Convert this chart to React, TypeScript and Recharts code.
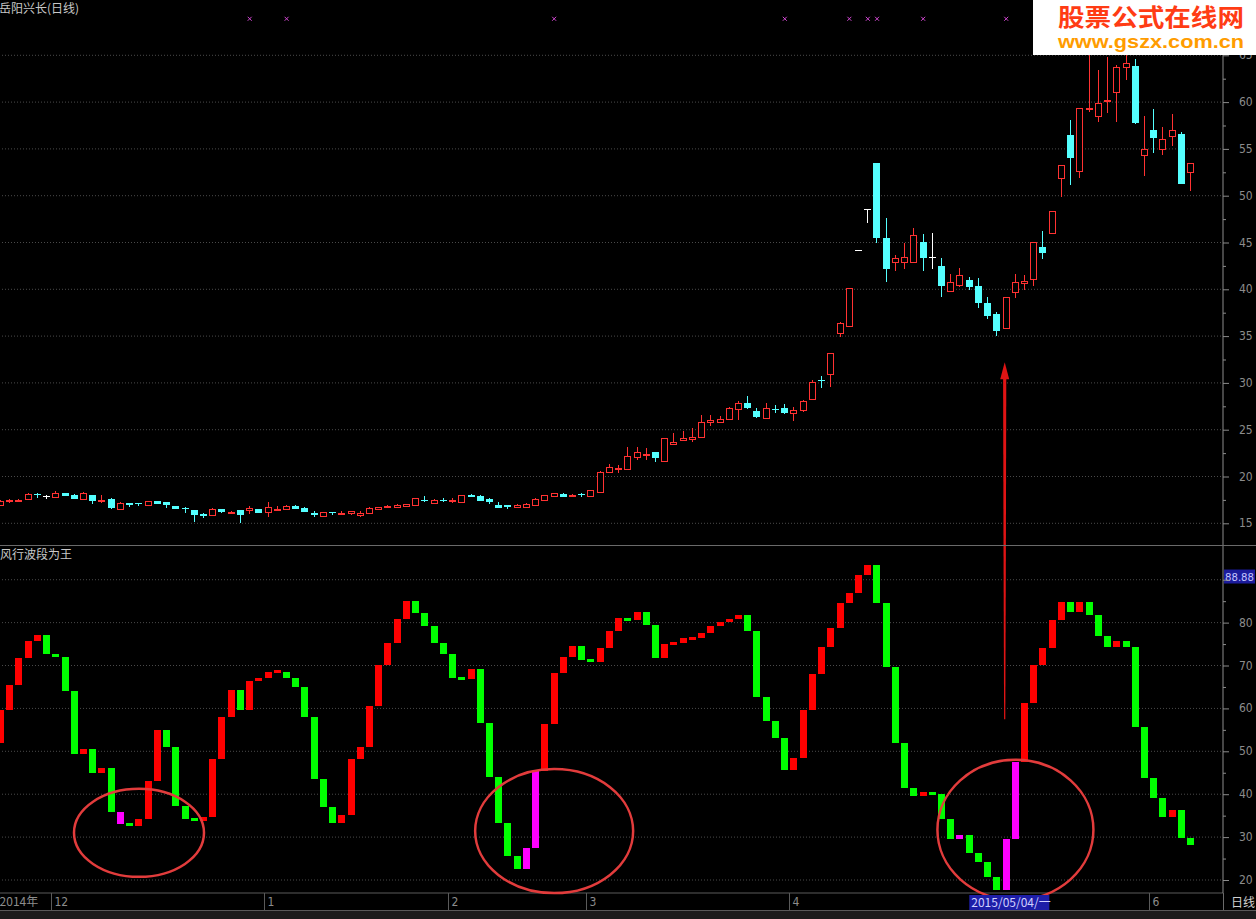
import React from "react";
import { ComposedChart, Bar, Scatter, XAxis, YAxis, CartesianGrid, ReferenceLine, ReferenceDot } from "recharts";

// daily candles, 岳阳兴长
const OPEN = [16.96,17.40,17.42,17.60,18.10,17.96,17.85,18.21,18.03,17.64,
  18.03,17.47,17.60,16.57,17.14,17.14,17.00,17.35,17.28,16.85,
  16.60,16.43,16.00,15.93,16.50,16.23,16.39,16.43,16.50,16.21,
  16.55,16.50,16.89,16.64,16.14,15.75,16.16,16.12,16.07,15.86,
  16.07,16.50,16.71,16.78,16.89,17.00,17.50,17.21,17.52,17.48,
  17.32,18.06,17.96,17.56,16.96,16.92,16.78,16.78,17.00,17.53,
  17.92,18.14,17.89,18.08,17.96,18.35,20.45,20.85,20.80,22.05,
  22.30,22.58,21.70,23.44,23.90,24.00,24.20,25.80,25.86,26.14,
  27.25,27.82,27.00,26.28,27.25,27.35,26.82,27.10,28.24,30.33,
  30.92,35.30,36.12,44.20,48.55,53.46,45.45,42.95,42.95,42.95,
  45.10,43.50,42.49,39.85,40.46,41.00,40.35,38.50,37.35,35.90,
  39.68,40.71,41.07,44.48,45.98,51.86,56.49,52.65,59.25,58.52,
  60.10,61.12,63.72,63.86,54.32,57.03,54.96,56.42,56.56,52.50];
const HIGH = [17.45,17.64,17.55,18.28,18.20,17.98,18.49,18.25,18.10,18.35,
  18.05,17.99,17.65,17.30,17.18,17.18,17.40,17.40,17.30,16.90,
  16.78,16.45,16.05,16.60,16.55,16.30,16.42,16.85,16.55,17.24,
  16.85,16.92,16.95,16.70,16.28,16.25,16.20,16.35,16.32,16.28,
  16.70,16.75,16.95,17.02,17.10,17.75,17.92,17.55,17.70,17.70,
  18.05,18.10,18.00,17.67,17.28,16.95,17.03,17.12,17.65,18.06,
  18.28,18.20,18.10,18.28,18.60,20.60,21.33,21.23,23.19,23.10,
  23.00,22.60,24.10,24.68,24.90,25.15,26.60,26.60,26.50,27.40,
  28.10,28.60,27.35,27.80,27.60,27.70,27.45,28.15,30.30,30.74,
  33.20,36.50,40.15,44.22,48.58,53.50,47.58,43.67,44.98,46.50,
  45.90,45.98,43.30,41.60,42.30,41.28,41.17,39.14,37.57,39.20,
  41.60,41.53,45.10,46.27,48.40,53.30,58.09,59.40,66.50,63.44,
  64.79,63.97,65.30,64.60,58.52,59.27,57.31,58.73,56.85,53.50];
const LOW = [16.90,17.21,17.38,17.50,17.67,17.64,17.78,17.90,17.60,17.60,
  17.03,17.21,16.55,16.55,16.78,16.89,16.95,17.05,16.60,16.50,
  16.07,15.12,15.60,15.90,16.10,15.96,15.00,15.96,16.10,15.71,
  16.28,16.45,16.50,16.20,15.71,15.70,15.93,15.93,15.93,15.71,
  16.00,16.45,16.68,16.75,16.85,16.95,17.30,17.18,17.28,17.21,
  17.30,17.80,17.40,17.07,16.66,16.57,16.71,16.75,16.95,17.50,
  17.90,17.80,17.85,17.78,17.78,18.30,20.34,20.41,20.70,21.76,
  21.76,21.60,21.68,23.37,23.80,23.72,24.10,25.40,25.75,26.10,
  26.00,27.20,26.30,26.20,26.75,26.64,25.93,26.90,28.17,29.42,
  29.60,34.94,36.00,44.18,47.05,45.00,40.82,42.00,42.13,42.77,
  42.00,42.13,39.20,39.75,40.28,39.92,37.97,36.83,35.05,35.85,
  39.04,39.92,40.35,43.24,45.90,49.90,51.15,51.86,58.98,57.90,
  58.88,57.90,62.37,57.70,52.15,54.60,54.35,55.32,51.20,50.54];
const CLOSE = [17.39,17.45,17.50,18.14,18.00,17.96,18.28,17.92,17.64,18.28,
  17.42,17.50,16.60,17.21,17.00,17.12,17.35,17.10,16.92,16.57,
  16.57,15.86,15.79,16.53,16.18,16.25,15.93,16.64,16.14,16.71,
  16.57,16.85,16.53,16.25,15.86,16.21,16.14,16.14,16.28,16.14,
  16.64,16.71,16.89,16.99,17.07,17.70,17.47,17.50,17.50,17.50,
  17.99,17.85,17.42,17.28,16.68,16.78,16.92,17.10,17.60,18.03,
  18.24,17.85,18.06,18.06,18.56,20.50,20.98,20.90,22.20,22.58,
  22.45,21.94,24.08,23.72,24.08,24.20,25.86,26.03,26.10,27.28,
  27.82,27.28,26.40,27.28,27.22,26.82,27.10,28.06,30.06,30.30,
  33.16,36.43,40.10,44.20,48.55,45.45,42.13,43.30,43.48,45.80,
  43.38,43.50,40.39,40.75,41.53,40.28,38.50,37.18,35.58,39.14,
  40.82,40.93,45.02,43.90,48.37,53.29,54.00,59.34,59.32,59.87,
  60.22,63.72,64.15,57.74,54.96,56.13,56.03,57.03,51.26,53.46];

// 风行波段为王: level before each day + one level per day (bar i spans WAVE[i] -> WAVE[i+1])
const WAVE = [51.9,
  59.6,65.5,71.7,75.7,77.1,72.8,72.1,64.1,49.3,50.5,
  45.0,46.0,35.9,33.0,32.7,34.2,43.1,55.0,51.1,37.3,
  34.2,33.8,34.7,48.2,58.1,64.3,59.6,66.4,67.2,68.4,
  68.6,67.2,65.0,57.9,43.5,37.1,33.4,35.2,48.2,51.1,
  60.6,70.1,75.3,80.8,85.0,82.2,79.3,75.3,72.7,67.2,
  66.9,69.1,56.5,44.1,33.2,25.7,22.5,27.4,45.3,56.3,
  68.2,72.1,74.5,71.3,70.9,74.0,78.0,81.0,80.5,82.5,
  79.4,71.8,75.0,75.2,76.3,76.5,77.6,79.1,80.1,80.8,
  81.8,78.1,62.7,57.1,53.2,45.7,48.4,59.6,68.0,74.2,
  78.7,84.6,87.0,91.1,93.4,84.5,69.7,52.0,41.5,39.6,
  40.4,40.0,34.2,29.5,30.6,26.4,24.1,20.8,17.7,29.5,
  47.6,61.2,70.1,74.0,80.6,84.7,82.5,84.7,81.8,76.9,
  74.4,75.7,74.4,55.7,43.8,39.2,34.8,36.3,29.9,28.2];
const HOT = [13, 57, 58, 104, 109, 110];
const SIGNALS = [27, 31, 60, 85, 92, 94, 95, 100, 109];
const SIGNAL_LEVEL = 68.9;

const MONTH_TICKS = [0, 6, 29, 49, 64, 86, 105, 125];
const MONTH_LABELS = ["2014年", "12", "1", "2", "3", "4", "2015/05/04/一", "6"];
const CURSOR = 105;

const PRICE_TICKS = [15,17.5,20,22.5,25,27.5,30,32.5,35,37.5,40,42.5,45,47.5,50,52.5,55,57.5,60,62.5,65];
const PRICE_GRID = [15,20,25,30,35,40,45,50,55,60,65];
const WAVE_TICKS = [20,25,30,35,40,45,50,55,60,65,70,75,80,85,90];
const WAVE_GRID = [20,30,40,50,60,70,80,90];
const LAST_LABEL = 88.88;

// annotations
const RINGS = [{ i: 15, v: 31.0, rx: 65, ry: 44 }, { i: 60, v: 31.4, rx: 79, ry: 62 }, { i: 110, v: 31.7, rx: 78, ry: 70 }];
const ARROW_AT = 109, ARROW_TIP = 32.2, ARROW_END = 57.5;

const PD: [number, number] = [12.682, 70.908];
const WD: [number, number] = [16.97, 97.86];

const RED = "#ff3232", CYAN = "#54ffff", UP = "#ff0000", DOWN = "#00ff00", HOTC = "#ff00ff";
const AXIS = "#8c8c8c", GRID = "#4a4a4a", ARROW = "#e01414";
const NUM = "'Liberation Sans Narrow','DejaVu Sans Condensed','Liberation Sans',sans-serif";
const CJK = "'Noto Sans CJK SC','Noto Sans',sans-serif";

const rows = Array.from({ length: CLOSE.length + 3 }, (_, i) =>
  i < CLOSE.length
    ? {
        i, open: OPEN[i], high: HIGH[i], low: LOW[i], close: CLOSE[i], hl: [LOW[i], HIGH[i]],
        from: WAVE[i], to: WAVE[i + 1], wave: [Math.min(WAVE[i], WAVE[i + 1]), Math.max(WAVE[i], WAVE[i + 1])],
        hot: HOT.includes(i), sig: SIGNALS.includes(i) ? SIGNAL_LEVEL : null,
      }
    : { i }
);

const Candle = (p: any) => {
  const d = p.payload;
  if (!d || d.open == null || !isFinite(p.y)) return null;
  const top = Math.min(p.y, p.y + p.height), bot = Math.max(p.y, p.y + p.height);
  const k = (bot - top) / (d.high - d.low);
  const py = (v: number) => Math.round(top + (d.high - v) * k);
  const x0 = Math.round(p.x), cx = x0 + 3.5;
  const yt = py(Math.max(d.open, d.close)), yb = py(Math.min(d.open, d.close));
  const c = d.close > d.open ? RED : d.close < d.open ? CYAN : "#ffffff";
  return (
    <g shapeRendering="crispEdges">
      <line x1={cx} x2={cx} y1={Math.round(top)} y2={Math.max(Math.round(bot), Math.round(top) + 1)} stroke={c} />
      {d.close > d.open ? (
        <rect x={x0 + 0.5} y={yt + 0.5} width={6} height={Math.max(yb - yt, 1)} fill="#000" stroke={c} />
      ) : d.close < d.open ? (
        <rect x={x0} y={yt} width={7} height={Math.max(yb - yt, 1)} fill={c} />
      ) : (
        <line x1={x0} x2={x0 + 7} y1={yt + 0.5} y2={yt + 0.5} stroke={c} />
      )}
    </g>
  );
};

const WaveBar = (p: any) => {
  const d = p.payload;
  if (!d || d.from == null || !isFinite(p.y)) return null;
  const top = Math.min(p.y, p.y + p.height), h = Math.abs(p.height);
  const hh = Math.max(h, 3);
  const c = d.hot ? HOTC : d.to >= d.from ? UP : DOWN;
  return <rect x={Math.round(p.x)} y={h < 3 ? top - (hh - h) / 2 : top} width={7} height={hh} fill={c} shapeRendering="crispEdges" />;
};

const Mark = (p: any) => {
  if (!p.payload || p.payload.sig == null || !isFinite(p.cx) || !isFinite(p.cy)) return null;
  const { cx, cy } = p;
  return (
    <g stroke="#d048d0" strokeWidth={1}>
      <line x1={cx - 2} y1={cy - 2} x2={cx + 2} y2={cy + 2} />
      <line x1={cx - 2} y1={cy + 2} x2={cx + 2} y2={cy - 2} />
    </g>
  );
};

const PriceTick = (p: any) => {
  const v = p.payload.value, major = v % 5 === 0;
  return (
    <g>
      <line x1={p.x} x2={p.x + (major ? 6 : 3)} y1={p.y + 0.5} y2={p.y + 0.5} stroke={AXIS} />
      {major && <text x={p.x + 16} y={p.y + 4} fill={AXIS} fontSize={12} fontFamily={NUM}>{v}</text>}
    </g>
  );
};

const WaveTick = (p: any) => {
  const v = p.payload.value, major = v % 10 === 0;
  return (
    <g>
      <line x1={p.x} x2={p.x + (major ? 6 : 3)} y1={p.y + 0.5} y2={p.y + 0.5} stroke={AXIS} />
      {major && v < 90 && <text x={p.x + 16} y={p.y + 4} fill={AXIS} fontSize={12} fontFamily={NUM}>{v}</text>}
    </g>
  );
};

const DateTick = (p: any) => {
  const k = MONTH_TICKS.indexOf(p.payload.value);
  if (k < 0) return null;
  const label = MONTH_LABELS[k];
  if (p.payload.value === CURSOR)
    return (
      <g>
        <rect x={p.x} y={p.y + 2} width={80} height={15} fill="#1e1ea8" />
        <text x={p.x + 2} y={p.y + 14} fill="#d0d0ff" fontSize={12} fontFamily={CJK}>{label}</text>
      </g>
    );
  if (k === 0) return <text x={p.x - 1} y={p.y + 13} fill={AXIS} fontSize={12} fontFamily={CJK}>{label}</text>;
  const sx = Math.round(p.x - 4.6) + 0.5;
  return (
    <g>
      <line x1={sx} x2={sx} y1={p.y} y2={p.y + 17} stroke="#5a5a5a" />
      <text x={sx + 3} y={p.y + 13} fill={AXIS} fontSize={12} fontFamily={NUM}>{label}</text>
    </g>
  );
};

const ArrowTop = (q: any) => {
  const x = q.x1 - 1.5, y1 = q.y1, y2 = q.y2;
  return (
    <g fill={ARROW}>
      <polygon points={`${x},${y1} ${x - 4.5},${y1 + 17} ${x + 4.5},${y1 + 17}`} />
      <polygon points={`${x - 1.6},${y1 + 12} ${x + 1.6},${y1 + 12} ${x + 1.2},${y2} ${x - 1.2},${y2}`} />
    </g>
  );
};
const ArrowBottom = (q: any) => {
  const x = q.x1 - 1.5, y1 = q.y1, y2 = q.y2;
  return <polygon fill={ARROW} points={`${x - 1.2},${y1} ${x + 1.2},${y1} ${x + 0.6},${y2} ${x - 0.6},${y2}`} />;
};
const LastBox = (q: any) => {
  const xr = Math.max(q.x1, q.x2);
  return (
    <g>
      <rect x={xr + 1} y={q.y1 - 15} width={32} height={14} fill="#1c1c9c" />
      <text x={xr + 2} y={q.y1 - 4} fill="#c4c4ff" fontSize={11} fontFamily={NUM} textLength={29} lengthAdjust="spacingAndGlyphs">
        {LAST_LABEL.toFixed(2)}
      </text>
    </g>
  );
};

const M = { top: 0, right: 0, bottom: 0, left: 0 };
const TXT = { position: "absolute" as const, fontSize: 12, lineHeight: "16px", color: "#c8c8c8", fontFamily: CJK, whiteSpace: "nowrap" as const };

export default function App() {
  return (
    <div style={{ position: "absolute", left: 0, top: 0, width: 1256, height: 919, background: "#000", overflow: "hidden" }}>
      <div style={{ position: "absolute", left: -4, top: 0 }}>
        <ComposedChart width={1259} height={545} data={rows} margin={M} barSize={7}>
          <CartesianGrid vertical={false} stroke={GRID} strokeDasharray="1 2" horizontalValues={PRICE_GRID} />
          <XAxis dataKey="i" hide />
          <YAxis orientation="right" width={32} domain={PD} allowDataOverflow ticks={PRICE_TICKS} interval={0}
            tick={(p: any) => <PriceTick {...p} />} tickLine={false} tickSize={0} tickMargin={0} axisLine={{ stroke: AXIS }} />
          <Bar dataKey="hl" shape={(p: any) => <Candle {...p} />} isAnimationActive={false} />
          <Scatter dataKey="sig" shape={(p: any) => <Mark {...p} />} isAnimationActive={false} />
          <ReferenceLine ifOverflow="visible" segment={[{ x: ARROW_AT, y: ARROW_TIP }, { x: ARROW_AT, y: PD[0] }]} shape={(q: any) => <ArrowTop {...q} />} />
        </ComposedChart>
      </div>
      <div style={{ position: "absolute", left: -4, top: 546 }}>
        <ComposedChart width={1259} height={364} data={rows} margin={M} barSize={7}>
          <CartesianGrid vertical={false} stroke={GRID} strokeDasharray="1 2" horizontalValues={WAVE_GRID} />
          <XAxis dataKey="i" height={17} interval={0} tick={(p: any) => <DateTick {...p} />} tickLine={false} tickSize={0} tickMargin={0}
            axisLine={{ stroke: "#5a5a5a" }} />
          <YAxis orientation="right" width={32} domain={WD} allowDataOverflow ticks={WAVE_TICKS} interval={0}
            tick={(p: any) => <WaveTick {...p} />} tickLine={false} tickSize={0} tickMargin={0} axisLine={{ stroke: AXIS }} />
          <Bar dataKey="wave" shape={(p: any) => <WaveBar {...p} />} isAnimationActive={false} />
          <ReferenceLine ifOverflow="visible" segment={[{ x: ARROW_AT, y: WD[1] }, { x: ARROW_AT, y: ARROW_END }]} shape={(q: any) => <ArrowBottom {...q} />} />
          <ReferenceLine ifOverflow="visible" y={LAST_LABEL} shape={(q: any) => <LastBox {...q} />} />
          {RINGS.map((r, k) => (
            <ReferenceDot key={k} ifOverflow="visible" x={r.i} y={r.v} r={1}
              shape={(q: any) => <ellipse cx={q.cx} cy={q.cy} rx={r.rx} ry={r.ry} fill="none" stroke="#e23c3c" strokeWidth={2.5} />} />
          ))}
        </ComposedChart>
      </div>

      <div style={{ ...TXT, left: -1, top: 0 }}>岳阳兴长(日线)</div>
      <div style={{ ...TXT, left: 0, top: 546 }}>风行波段为王</div>
      <div style={{ position: "absolute", left: 0, top: 545, width: 1256, height: 1, background: "#6a6a6a" }} />
      <div style={{ position: "absolute", left: 1223, top: 893, width: 1, height: 17, background: "#6a6a6a" }} />
      <div style={{ ...TXT, left: 1231, top: 894, color: "#d0d0d0" }}>日线</div>
      <div style={{ position: "absolute", left: 0, top: 910, width: 1256, height: 9, background: "#1c1c1c", borderTop: "1px solid #5a5a5a" }} />

      <svg style={{ position: "absolute", left: 1033, top: 0 }} width={223} height={55}>
        <rect width={223} height={55} fill="#ffffff" />
        <text x={25} y={26} fontSize={24} fontWeight={700} fill="#ff3c14" fontFamily={CJK} textLength={186} lengthAdjust="spacingAndGlyphs">股票公式在线网</text>
        <text x={25} y={48} fontSize={19} fontWeight={700} fill="#ff9c00" fontFamily="'Liberation Sans',Arial,sans-serif" textLength={186} lengthAdjust="spacingAndGlyphs">www.gszx.com.cn</text>
      </svg>
    </div>
  );
}
